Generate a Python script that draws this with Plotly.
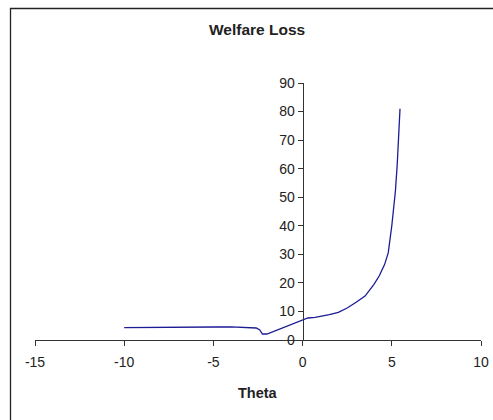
import plotly.graph_objects as go

theta = [-10, -9, -8, -7, -6, -5, -4, -3, -2.6, -2.4, -2.25, -2.0, -1.5, -1.0, -0.5, 0.0,
         0.3, 0.7, 1.0, 1.5, 2.0, 2.5, 3.0, 3.5, 4.0, 4.3, 4.6, 4.8, 5.0, 5.1, 5.2, 5.3, 5.4, 5.46]
loss = [4.3, 4.3, 4.3, 4.3, 4.35, 4.55, 4.6, 4.4, 4.2, 3.5, 2.1, 2.1, 3.3, 4.6, 5.9, 7.0,
        7.7, 7.9, 8.2, 8.9, 9.7, 11.2, 13.2, 15.4, 19.5, 22.5, 26.5, 30.5, 40, 45, 52, 61, 72, 81]

x_ticks = [-15, -10, -5, 0, 5, 10]
y_ticks = [0, 10, 20, 30, 40, 50, 60, 70, 80, 90]

x_range = [-15, 10]
y_range = [0, 90]

fig = go.Figure()
fig.add_trace(go.Scatter(x=theta, y=loss, mode="lines",
                         line=dict(color="#1c1c96", width=1.3),
                         showlegend=False, hoverinfo="skip"))

W, H = 493, 420
ml, mr, mt, mb = 35, 12, 83, 80
pw = W - ml - mr
ph = H - mt - mb

def px_to_paper_x(px):
    return (px - ml) / pw

def py_to_paper_y(py):
    return (H - mb - py) / ph

fig.update_layout(
    width=W, height=H, autosize=False,
    margin=dict(l=ml, r=mr, t=mt, b=mb),
    paper_bgcolor="white", plot_bgcolor="white",
    font=dict(family="Liberation Sans, Arial", size=14, color="#222222"),
    xaxis=dict(range=x_range, tickvals=x_ticks, ticktext=[str(v) for v in x_ticks],
               showgrid=False, zeroline=False, showline=True, linecolor="#333333",
               linewidth=1, ticks="outside", ticklen=5, tickcolor="#333333",
               anchor="y", fixedrange=True, tickfont=dict(size=14), ticklabelstandoff=4,
               ticklabeloverflow="allow", automargin=False),
    yaxis=dict(range=y_range, tickvals=y_ticks, ticktext=[str(v) for v in y_ticks],
               showgrid=False, zeroline=False, showline=True, linecolor="#333333",
               linewidth=1, ticks="outside", ticklen=5, tickcolor="#333333",
               anchor="free", position=(0 - x_range[0]) / (x_range[1] - x_range[0]),
               fixedrange=True, tickfont=dict(size=14), automargin=False),
    shapes=[dict(type="rect", xref="paper", yref="paper",
                 x0=px_to_paper_x(10.5), x1=px_to_paper_x(W + 20),
                 y0=py_to_paper_y(H + 20), y1=py_to_paper_y(8.5),
                 line=dict(color="#222222", width=1.3), fillcolor="rgba(0,0,0,0)",
                 layer="below")],
    annotations=[
        dict(text="<b>Welfare Loss</b>", xref="paper", yref="paper",
             x=px_to_paper_x(257), y=py_to_paper_y(29), showarrow=False,
             xanchor="center", yanchor="middle", font=dict(size=15.5)),
        dict(text="<b>Theta</b>", xref="paper", yref="paper",
             x=px_to_paper_x(258), y=py_to_paper_y(393), showarrow=False,
             xanchor="center", yanchor="middle", font=dict(size=14.5)),
    ],
)

# remove the default 8px page margin so the 493x420 figure fills the window exactly
fig.write_html("out.html",
               config={"displayModeBar": False, "staticPlot": True},
               post_script="document.body.style.margin='0';document.body.style.overflow='hidden';")
